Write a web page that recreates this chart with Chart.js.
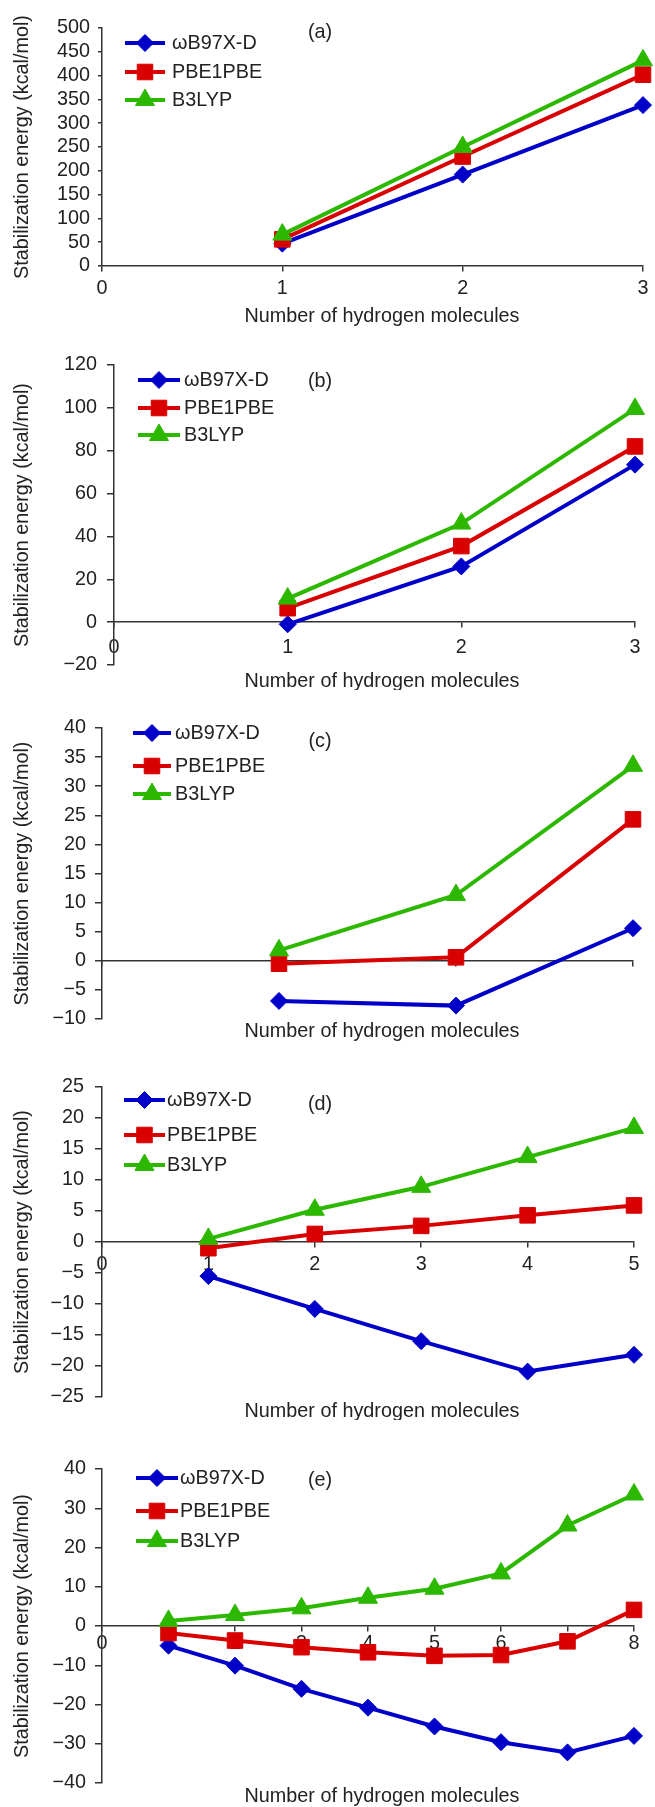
<!DOCTYPE html>
<html><head><meta charset="utf-8">
<script src="https://cdn.jsdelivr.net/npm/chart.js@4.4.1/dist/chart.umd.min.js"></script>
<style>
html,body{margin:0;padding:0;background:#fff;}
body{width:655px;height:1807px;position:relative;overflow:hidden;}
.panel{position:absolute;left:0;width:655px;}
canvas{display:block;}
</style></head><body>
<div class="panel" style="top:0px"><canvas id="ca" width="655" height="330"></canvas></div>
<div class="panel" style="top:330px"><canvas id="cb" width="655" height="360"></canvas></div>
<div class="panel" style="top:690px"><canvas id="cc" width="655" height="360"></canvas></div>
<div class="panel" style="top:1050px"><canvas id="cd" width="655" height="370"></canvas></div>
<div class="panel" style="top:1420px"><canvas id="ce" width="655" height="387"></canvas></div>
<script>
// ---------- data ----------
const seriesNames = ['\u03c9B97X-D', 'PBE1PBE', 'B3LYP'];
const xTitle = 'Number of hydrogen molecules';
const yTitle = 'Stabilization energy (kcal/mol)';
const panelTags = ['(a)', '(b)', '(c)', '(d)', '(e)'];

// (a)
const xA = [1, 2, 3];
const wA = [47, 192, 338];
const pA = [56, 230, 402];
const bA = [66, 250, 432];
const xTicksA = [0, 1, 2, 3];
const yTicksA = [0, 50, 100, 150, 200, 250, 300, 350, 400, 450, 500];
// (b)
const xB = [1, 2, 3];
const wB = [-1, 26, 73.5];
const pB = [6.5, 35.5, 82];
const bB = [11, 46, 99.5];
const xTicksB = [0, 1, 2, 3];
const yTicksB = [-20, 0, 20, 40, 60, 80, 100, 120];
// (c)
const xC = [1, 2, 3];
const wC = [-6.9, -7.7, 5.6];
const pC = [-0.5, 0.6, 24.3];
const bC = [1.8, 11.3, 33.5];
const xTicksC = [0, 1, 2, 3];
const yTicksC = [-10, -5, 0, 5, 10, 15, 20, 25, 30, 35, 40];
// (d)
const xD = [1, 2, 3, 4, 5];
const wD = [-5.5, -10.8, -16, -20.9, -18.2];
const pD = [-1, 1.3, 2.6, 4.3, 5.9];
const bD = [0.5, 5.2, 8.9, 13.7, 18.4];
const xTicksD = [0, 1, 2, 3, 4, 5];
const yTicksD = [-25, -20, -15, -10, -5, 0, 5, 10, 15, 20, 25];
// (e)
const xE = [1, 2, 3, 4, 5, 6, 7, 8];
const wE = [-5, -10.1, -16, -20.8, -25.6, -29.6, -32.2, -28];
const pE = [-1.8, -3.7, -5.4, -6.7, -7.6, -7.4, -3.9, 4.1];
const bE = [1.3, 2.8, 4.5, 7.2, 9.5, 13.4, 25.6, 33.5];
const xTicksE = [0, 1, 2, 3, 4, 5, 6, 7, 8];
const yTicksE = [-40, -30, -20, -10, 0, 10, 20, 30, 40];

// ---------- styles ----------
const colors = ['#0000c8', '#d80000', '#2db800'];
const pointStyles = ['rectRot', 'rect', 'triangle'];
const pointRadii = [8.5, 11, 11];
const FONT = '"Liberation Sans", Arial, sans-serif';
const FSIZE = 19.8;
const textColor = '#222';
const axisColor = '#333';

function fmt(v) { return v < 0 ? '\u2212' + Math.abs(v) : String(v); }

const decor = {
  id: 'decor',
  afterDraw(chart, args, o) {
    const ctx = chart.ctx;
    ctx.save();
    chart.data.datasets.forEach((ds, i) => {
      const y = o.rows[i];
      ctx.strokeStyle = ds.borderColor;
      ctx.lineWidth = ds.borderWidth;
      ctx.beginPath();
      ctx.moveTo(o.lx, y);
      ctx.lineTo(o.lx + o.lw, y);
      ctx.stroke();
      ctx.fillStyle = ds.backgroundColor;
      ctx.strokeStyle = ds.borderColor;
      ctx.lineWidth = 1;
      Chart.helpers.drawPoint(ctx, {pointStyle: ds.pointStyle, radius: ds.pointRadius, borderWidth: 1, rotation: 0}, o.lx + o.lw / 2, y);
      ctx.fillStyle = textColor;
      ctx.font = FSIZE + 'px ' + FONT;
      ctx.textAlign = 'left';
      ctx.textBaseline = 'middle';
      ctx.fillText(ds.label, o.tx, y + 1);
    });
    ctx.fillStyle = textColor;
    ctx.font = FSIZE + 'px ' + FONT;
    ctx.textAlign = 'center';
    ctx.textBaseline = 'middle';
    ctx.fillText(o.tag, o.tagX, o.tagY);
    ctx.fillText(xTitle, o.titleX, o.titleY);
    ctx.restore();
  }
};

function makePanel(id, tag, xs, series, xTicks, yTicks, p) {
  const datasets = series.map((ys, i) => ({
    label: seriesNames[i],
    data: xs.map((x, j) => ({x: x, y: ys[j]})),
    borderColor: colors[i],
    backgroundColor: colors[i],
    borderWidth: 4,
    pointStyle: pointStyles[i],
    pointRadius: pointRadii[i],
    pointBorderWidth: 1,
    pointBackgroundColor: colors[i],
    pointBorderColor: colors[i],
    tension: 0,
    clip: false,
    order: 3 - i
  }));
  const font = {family: FONT, size: FSIZE};
  new Chart(document.getElementById(id), {
    type: 'line',
    data: {datasets: datasets},
    options: {
      responsive: false,
      animation: false,
      devicePixelRatio: 1,
      events: [],
      layout: {padding: {left: 0, top: p.top, right: 655 - p.right, bottom: p.h - p.bottom}},
      plugins: {
        legend: {display: false},
        tooltip: {enabled: false},
        decor: {tag: tag, tagX: 320, tagY: p.tagY, titleX: 382, titleY: p.titleY,
                lx: p.lx, lw: p.lw, tx: p.tx, rows: p.rows}
      },
      scales: {
        x: {
          type: 'linear',
          position: {y: 0},
          min: xTicks[0],
          max: xTicks[xTicks.length - 1],
          z: p.xz || 0,
          afterBuildTicks: s => { s.ticks = xTicks.map(v => ({value: v})); },
          afterFit: s => { s.height = 0; s.paddingLeft = 0; s.paddingRight = 0; },
          grid: {drawOnChartArea: false, drawTicks: true, tickLength: 5, color: axisColor, lineWidth: 1.5},
          border: {display: true, color: axisColor, width: 1.5},
          ticks: {display: p.xLabels, font: font, color: textColor, padding: p.xpad,
                  maxRotation: 0, autoSkip: false, callback: v => fmt(v)},
          title: {display: false}
        },
        y: {
          type: 'linear',
          position: 'left',
          min: yTicks[0],
          max: yTicks[yTicks.length - 1],
          afterBuildTicks: s => { s.ticks = yTicks.map(v => ({value: v})); },
          afterFit: s => { s.width = p.left; s.paddingTop = 0; s.paddingBottom = 0; },
          grid: {drawOnChartArea: false, drawTicks: true, tickLength: p.ytl, color: axisColor, lineWidth: 1.5},
          border: {display: true, color: axisColor, width: 1.5},
          ticks: {font: font, color: textColor, padding: p.ypad, autoSkip: false, callback: v => fmt(v)},
          title: {display: true, text: yTitle, font: font, color: textColor, padding: {top: 11, bottom: 0}}
        }
      }
    },
    plugins: [decor]
  });
}

makePanel('ca', panelTags[0], xA, [wA, pA, bA], xTicksA, yTicksA,
  {h: 330, top: 28, bottom: 266, left: 102, right: 651, ytl: 4, ypad: 8, xpad: 6.1, xLabels: true,
   tagY: 33, titleY: 317, lx: 125, lw: 40, tx: 172, rows: [43, 72, 100]});
makePanel('cb', panelTags[1], xB, [wB, pB, bB], xTicksB, yTicksB,
  {h: 360, top: 35, bottom: 335, left: 114, right: 635, ytl: 7, ypad: 10, xpad: 8.6, xLabels: true,
   tagY: 52, titleY: 352, lx: 138, lw: 42, tx: 184, rows: [50, 78, 105]});
makePanel('cc', panelTags[2], xC, [wC, pC, bC], xTicksC, yTicksC,
  {h: 360, top: 38, bottom: 329, left: 102, right: 633, ytl: 7, ypad: 9, xpad: 6, xLabels: false,
   tagY: 52, titleY: 342, lx: 133, lw: 38, tx: 175, rows: [43, 76, 104]});
makePanel('cd', panelTags[3], xD, [wD, pD, bD], xTicksD, yTicksD,
  {h: 370, top: 37, bottom: 347, left: 102, right: 634, ytl: 7, ypad: 11, xpad: 5.6, xLabels: true,
   tagY: 55, titleY: 362, lx: 124, lw: 41, tx: 167, rows: [50, 85, 115]});
makePanel('ce', panelTags[4], xE, [wE, pE, bE], xTicksE, yTicksE,
  {h: 387, top: 49, bottom: 363, left: 102, right: 634, ytl: 7, ypad: 9, xpad: 0.6, xLabels: true, xz: 1,
   tagY: 61, titleY: 377, lx: 136, lw: 42, tx: 180, rows: [58, 91, 121]});
</script>
</body></html>
